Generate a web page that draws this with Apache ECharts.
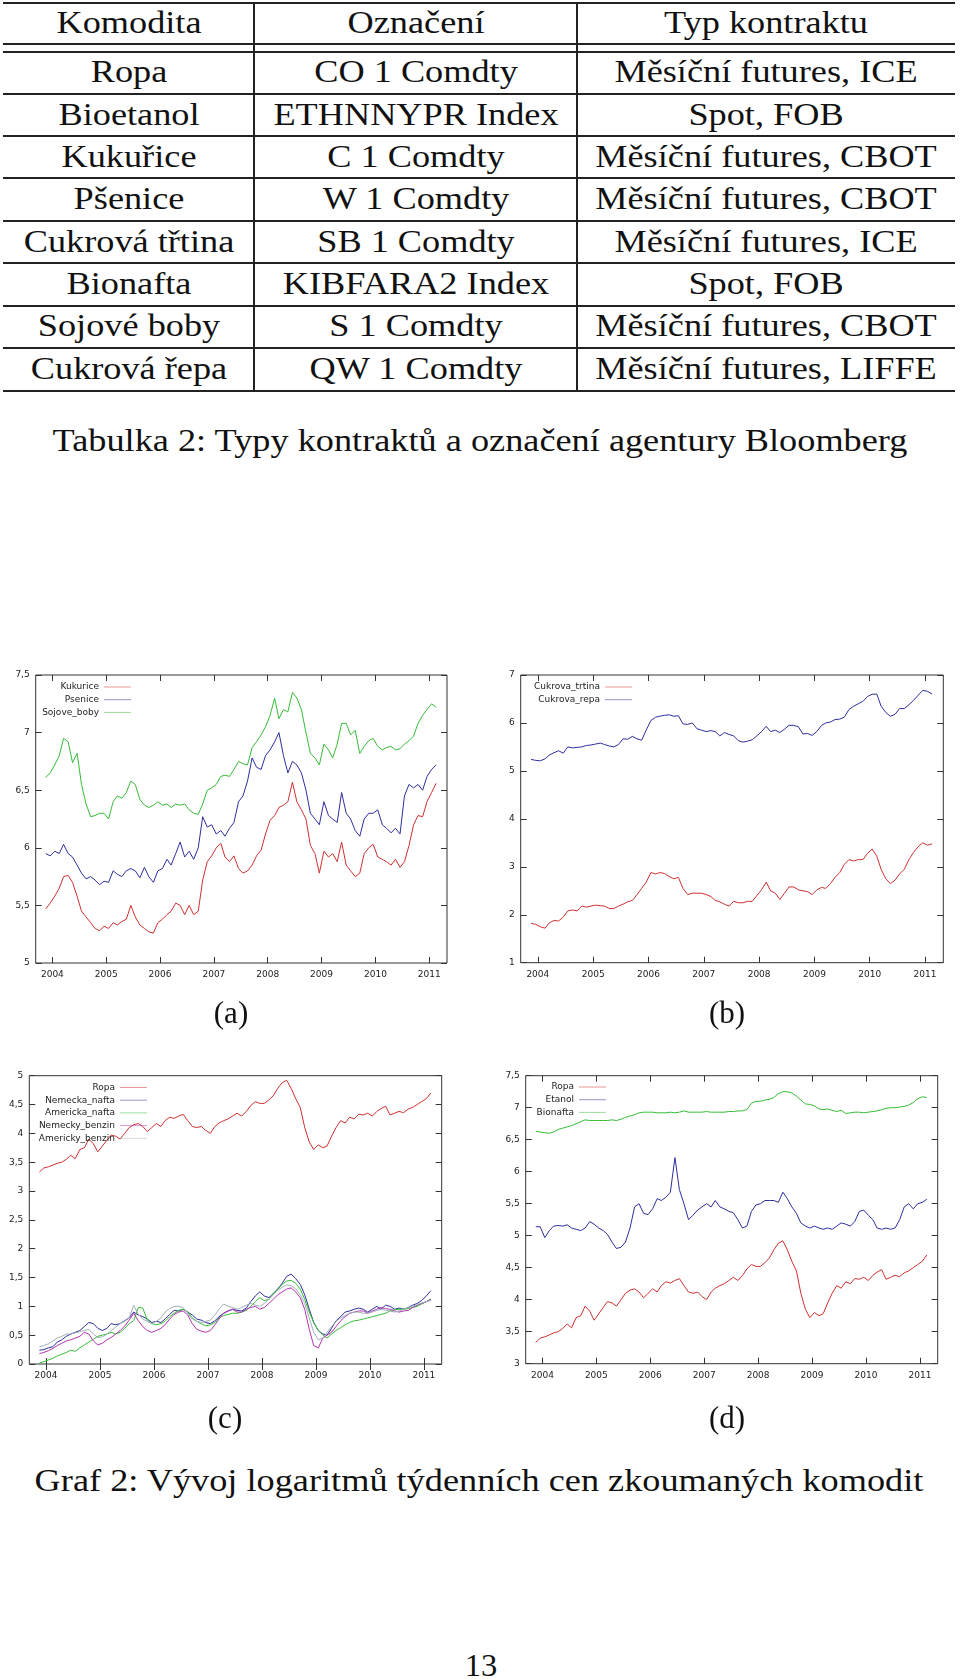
<!DOCTYPE html>
<html><head><meta charset="utf-8">
<script src="https://cdn.jsdelivr.net/npm/echarts@6/dist/echarts.min.js"></script>
<style>
html,body{margin:0;padding:0;background:#fff;}
body{width:960px;height:1679px;position:relative;overflow:hidden;font-family:"Liberation Serif","DejaVu Serif",serif;color:#111;}
.t{position:absolute;white-space:nowrap;font-size:31px;line-height:1;transform:translate(-50%,-50%) scaleX(1.17);}
.rule{position:absolute;background:#222;}
.chart{position:absolute;width:480px;height:340px;}
</style></head><body>
<div id="chartA" class="chart" style="left:0;top:660px"></div>
<div id="chartB" class="chart" style="left:480px;top:660px"></div>
<div id="chartC" class="chart" style="left:0;top:1060px"></div>
<div id="chartD" class="chart" style="left:480px;top:1060px"></div>
<script>
// ---------------- DATA ----------------
const tableHeader = ["Komodita", "Označení", "Typ kontraktu"];
const komodity = ["Ropa", "Bioetanol", "Kukuřice", "Pšenice", "Cukrová třtina", "Bionafta", "Sojové boby", "Cukrová řepa"];
const oznaceni = ["CO 1 Comdty", "ETHNNYPR Index", "C 1 Comdty", "W 1 Comdty", "SB 1 Comdty", "KIBFARA2 Index", "S 1 Comdty", "QW 1 Comdty"];
const typKontraktu = ["Měsíční futures, ICE", "Spot, FOB", "Měsíční futures, CBOT", "Měsíční futures, CBOT", "Měsíční futures, ICE", "Spot, FOB", "Měsíční futures, CBOT", "Měsíční futures, LIFFE"];
const tableCaption = "Tabulka 2: Typy kontraktů a označení agentury Bloomberg";
const figureCaption = "Graf 2: Vývoj logaritmů týdenních cen zkoumaných komodit";
const subLabels = ["(a)", "(b)", "(c)", "(d)"];
const pageNumber = "13";

const yearTicks = [2004, 2005, 2006, 2007, 2008, 2009, 2010, 2011];

const dates = [
"2003-11-17","2003-12-17",
"2004-01-17","2004-02-17","2004-03-17","2004-04-17","2004-05-17","2004-06-17","2004-07-17","2004-08-17","2004-09-17","2004-10-17","2004-11-17","2004-12-17",
"2005-01-17","2005-02-17","2005-03-17","2005-04-17","2005-05-17","2005-06-17","2005-07-17","2005-08-17","2005-09-17","2005-10-17","2005-11-17","2005-12-17",
"2006-01-17","2006-02-17","2006-03-17","2006-04-17","2006-05-17","2006-06-17","2006-07-17","2006-08-17","2006-09-17","2006-10-17","2006-11-17","2006-12-17",
"2007-01-17","2007-02-17","2007-03-17","2007-04-17","2007-05-17","2007-06-17","2007-07-17","2007-08-17","2007-09-17","2007-10-17","2007-11-17","2007-12-17",
"2008-01-17","2008-02-17","2008-03-17","2008-04-17","2008-05-17","2008-06-17","2008-07-17","2008-08-17","2008-09-17","2008-10-17","2008-11-17","2008-12-17",
"2009-01-17","2009-02-17","2009-03-17","2009-04-17","2009-05-17","2009-06-17","2009-07-17","2009-08-17","2009-09-17","2009-10-17","2009-11-17","2009-12-17",
"2010-01-17","2010-02-17","2010-03-17","2010-04-17","2010-05-17","2010-06-17","2010-07-17","2010-08-17","2010-09-17","2010-10-17","2010-11-17","2010-12-17",
"2011-01-17","2011-02-17"];

// (a)
const kukurice = [5.47,5.52,5.58,5.65,5.75,5.76,5.70,5.58,5.45,5.40, 5.35,5.30,5.28,5.32,5.30,5.35,5.33,5.36,5.38,5.50, 5.40,5.33,5.30,5.27,5.26,5.35,5.38,5.42,5.45,5.52, 5.50,5.42,5.50,5.42,5.45,5.72,5.88,5.93,6.00,6.04, 5.92,5.88,5.93,5.82,5.78,5.80,5.85,5.93,5.98,6.12, 6.24,6.28,6.35,6.37,6.40,6.57,6.40,6.33,6.25,6.02, 5.95,5.78,5.97,5.92,5.95,5.88,6.05,5.85,5.80,5.75, 5.78,5.95,6.00,6.03,5.92,5.90,5.88,5.85,5.90,5.83, 5.88,6.02,6.20,6.28,6.27,6.40,6.48,6.56];
const psenice = [5.95,5.93,5.97,5.95,6.03,5.95,5.92,5.85,5.78,5.73, 5.75,5.72,5.68,5.71,5.70,5.80,5.77,5.75,5.80,5.82, 5.80,5.74,5.83,5.75,5.70,5.80,5.82,5.90,5.85,5.95, 6.05,5.92,5.97,5.90,6.00,6.27,6.18,6.20,6.12,6.15, 6.10,6.17,6.22,6.40,6.45,6.58,6.78,6.70,6.68,6.80, 6.85,6.92,7.00,6.80,6.65,6.75,6.72,6.65,6.50,6.30, 6.25,6.20,6.40,6.28,6.25,6.22,6.48,6.30,6.25,6.15, 6.10,6.25,6.30,6.30,6.33,6.20,6.17,6.13,6.17,6.12, 6.45,6.55,6.52,6.55,6.50,6.62,6.68,6.72];
const sojoveBoby = [6.61,6.65,6.72,6.80,6.95,6.92,6.74,6.82,6.55,6.38, 6.27,6.28,6.30,6.30,6.25,6.40,6.45,6.43,6.48,6.58, 6.55,6.42,6.37,6.35,6.37,6.40,6.37,6.38,6.35,6.38, 6.37,6.38,6.33,6.30,6.29,6.38,6.50,6.52,6.55,6.62, 6.63,6.62,6.68,6.75,6.73,6.72,6.87,6.92,6.98,7.05, 7.15,7.30,7.12,7.20,7.18,7.35,7.30,7.20,7.00,6.82, 6.78,6.72,6.90,6.85,6.78,6.90,7.08,7.08,6.98,7.02, 6.82,6.88,6.93,6.95,6.88,6.85,6.87,6.88,6.85,6.86, 6.90,6.93,6.97,7.08,7.15,7.20,7.25,7.22];
// (b)
const cukrovaTrtina = [1.82,1.80,1.75,1.72,1.83,1.88,1.87,1.95,2.08,2.10, 2.08,2.18,2.16,2.18,2.20,2.19,2.18,2.13,2.13,2.18, 2.22,2.27,2.30,2.42,2.55,2.68,2.88,2.85,2.88,2.86, 2.80,2.75,2.78,2.55,2.42,2.45,2.45,2.45,2.42,2.38, 2.30,2.27,2.22,2.18,2.28,2.25,2.25,2.28,2.28,2.40, 2.52,2.68,2.50,2.45,2.32,2.45,2.58,2.58,2.52,2.50, 2.48,2.42,2.52,2.57,2.55,2.65,2.78,2.88,3.05,3.15, 3.12,3.15,3.15,3.28,3.37,3.22,2.95,2.75,2.65,2.72, 2.85,2.95,3.15,3.30,3.42,3.50,3.45,3.48];
const cukrovaRepa = [5.24,5.22,5.21,5.25,5.33,5.38,5.42,5.37,5.50,5.48, 5.49,5.50,5.53,5.54,5.56,5.58,5.55,5.52,5.50,5.55, 5.67,5.66,5.72,5.67,5.64,5.85,6.05,6.12,6.14,6.16, 6.17,6.14,6.15,5.98,5.97,6.00,5.88,5.85,5.82,5.84, 5.82,5.73,5.80,5.76,5.73,5.63,5.60,5.62,5.65,5.73, 5.82,5.93,5.82,5.85,5.80,5.87,5.95,5.95,5.92,5.77, 5.78,5.74,5.82,5.95,6.00,6.02,6.07,6.08,6.12,6.28, 6.35,6.40,6.45,6.55,6.60,6.60,6.35,6.22,6.14,6.18, 6.30,6.30,6.38,6.47,6.58,6.68,6.66,6.60];
// (c) and (d)
const ropa = [3.33,3.40,3.42,3.45,3.48,3.50,3.55,3.62,3.56,3.72, 3.75,3.90,3.82,3.68,3.78,3.88,3.97,3.95,3.90,4.00, 4.10,4.15,4.17,4.12,4.03,4.10,4.17,4.12,4.22,4.28, 4.26,4.30,4.33,4.22,4.12,4.10,4.12,4.05,4.00,4.12, 4.18,4.22,4.25,4.30,4.35,4.30,4.38,4.48,4.55,4.52, 4.52,4.58,4.65,4.78,4.88,4.92,4.78,4.60,4.45,4.10, 3.85,3.72,3.80,3.75,3.78,3.95,4.10,4.22,4.18,4.28, 4.25,4.33,4.32,4.35,4.30,4.38,4.43,4.47,4.32,4.35, 4.38,4.36,4.42,4.45,4.50,4.55,4.60,4.70];
const nemeckaNafta = [0.24,0.25,0.28,0.30,0.38,0.42,0.48,0.52,0.55,0.58, 0.65,0.72,0.70,0.62,0.58,0.62,0.70,0.68,0.70,0.75, 0.80,0.90,0.85,0.82,0.78,0.72,0.74,0.72,0.78,0.86, 0.93,0.92,0.95,0.90,0.85,0.78,0.76,0.72,0.70,0.75, 0.82,0.88,0.92,0.95,0.93,0.92,0.97,1.08,1.18,1.25, 1.18,1.15,1.22,1.30,1.40,1.52,1.56,1.48,1.38,1.20, 0.95,0.72,0.58,0.52,0.50,0.62,0.75,0.82,0.90,0.92, 0.95,0.97,0.95,0.90,0.95,1.00,0.95,1.02,1.00,0.95, 0.97,0.95,0.98,1.02,1.05,1.10,1.18,1.27];
const americkaNafta = [0.02,0.04,0.07,0.10,0.14,0.17,0.20,0.24,0.22,0.28, 0.33,0.38,0.43,0.48,0.50,0.52,0.55,0.52,0.55,0.62, 0.70,0.75,0.98,0.97,0.76,0.70,0.68,0.70,0.74,0.82, 0.88,0.93,0.95,0.90,0.80,0.74,0.70,0.66,0.68,0.72, 0.80,0.84,0.86,0.88,0.88,0.90,0.93,1.00,1.08,1.15, 1.10,1.12,1.22,1.30,1.38,1.44,1.45,1.40,1.30,1.12, 0.90,0.72,0.58,0.50,0.45,0.52,0.58,0.63,0.68,0.72, 0.75,0.76,0.78,0.80,0.82,0.84,0.86,0.88,0.92,0.94, 0.95,0.95,0.96,0.98,1.00,1.04,1.08,1.13];
const nemeckyBenzin = [0.18,0.20,0.23,0.27,0.32,0.36,0.40,0.42,0.45,0.48, 0.55,0.52,0.40,0.33,0.36,0.42,0.46,0.52,0.58,0.66, 0.76,0.88,0.75,0.65,0.58,0.55,0.58,0.62,0.68,0.78, 0.86,0.90,0.92,0.85,0.70,0.60,0.57,0.55,0.58,0.68, 0.78,0.88,0.92,0.95,0.90,0.90,0.95,0.98,1.00,0.95, 0.98,1.05,1.12,1.20,1.25,1.30,1.32,1.25,1.15,0.95, 0.60,0.32,0.28,0.45,0.50,0.55,0.65,0.75,0.82,0.88, 0.90,0.92,0.92,0.88,0.92,0.95,0.98,0.96,0.95,0.92, 0.90,0.92,0.93,0.98,1.02,1.05,1.08,1.12];
const americkyBenzin = [0.30,0.32,0.35,0.40,0.45,0.48,0.52,0.52,0.54,0.56, 0.58,0.60,0.52,0.46,0.47,0.52,0.58,0.64,0.70,0.74, 0.80,1.02,0.86,0.78,0.74,0.70,0.74,0.80,0.90,0.96, 1.00,1.00,0.98,0.88,0.78,0.74,0.72,0.74,0.76,0.85, 0.95,1.04,1.00,0.98,0.95,0.98,1.02,1.05,1.02,1.00, 1.05,1.12,1.20,1.28,1.33,1.37,1.36,1.30,1.20,1.05, 0.80,0.55,0.42,0.45,0.55,0.65,0.74,0.80,0.84,0.88, 0.90,0.90,0.88,0.88,0.90,0.93,0.95,0.93,0.92,0.90, 0.92,0.95,0.98,1.00,1.03,1.06,1.08,1.10];
const etanol = [5.14,5.14,4.97,5.08,5.15,5.16,5.15,5.17,5.12,5.10, 5.08,5.12,5.22,5.18,5.12,5.08,5.02,4.90,4.80,4.82, 4.90,5.12,5.45,5.50,5.35,5.33,5.42,5.58,5.55,5.60, 5.68,6.22,5.72,5.50,5.25,5.32,5.40,5.45,5.50,5.45, 5.55,5.45,5.42,5.38,5.36,5.25,5.12,5.15,5.38,5.48, 5.50,5.55,5.55,5.55,5.52,5.68,5.58,5.45,5.35,5.20, 5.15,5.12,5.15,5.12,5.10,5.12,5.10,5.15,5.20,5.18, 5.15,5.22,5.38,5.40,5.32,5.25,5.12,5.10,5.12,5.10, 5.12,5.25,5.45,5.50,5.42,5.50,5.52,5.57];
const bionafta = [6.63,6.62,6.61,6.60,6.62,6.66,6.68,6.70,6.72,6.75, 6.78,6.81,6.80,6.80,6.80,6.80,6.80,6.81,6.80,6.82, 6.85,6.87,6.89,6.92,6.93,6.93,6.93,6.92,6.92,6.92, 6.93,6.92,6.93,6.95,6.93,6.93,6.93,6.93,6.94,6.93, 6.93,6.93,6.93,6.94,6.94,6.95,6.95,6.97,7.07,7.10, 7.10,7.12,7.13,7.16,7.22,7.25,7.25,7.23,7.18,7.12, 7.06,7.05,7.03,6.98,6.97,6.98,6.96,6.94,6.96,6.91, 6.92,6.93,6.93,6.92,6.93,6.94,6.95,6.97,6.99,7.00, 7.00,7.01,7.02,7.04,7.08,7.14,7.17,7.16];

// ---------------- PAGE TEXT & TABLE ----------------
function addText(str, cx, cy, sx) {
  const d = document.createElement('div');
  d.className = 't';
  d.textContent = str;
  d.style.left = cx + 'px';
  d.style.top = cy + 'px';
  if (sx !== undefined) d.style.transform = 'translate(-50%,-50%) scaleX(' + sx + ')';
  document.body.appendChild(d);
}
function addRule(x, y, w, h) {
  const d = document.createElement('div');
  d.className = 'rule';
  d.style.left = x + 'px'; d.style.top = y + 'px';
  d.style.width = w + 'px'; d.style.height = h + 'px';
  document.body.appendChild(d);
}
const tblL = 3, tblR = 955, colX = [254, 577];
const colC = [(tblL + colX[0]) / 2, (colX[0] + colX[1]) / 2, (colX[1] + tblR) / 2];
const ruleYs = [3, 44, 52, 94, 136, 178, 221, 263, 306, 348, 391];
ruleYs.forEach(y => addRule(tblL, y - 0.7, tblR - tblL, 1.4));
colX.forEach(x => addRule(x - 0.6, 3, 1.2, 388));
tableHeader.forEach((h, c) => addText(h, colC[c], 21.7));
const rowsTop = 52, rowH = (391 - 52) / 8;
komodity.forEach((k, r) => {
  const cy = rowsTop + rowH * (r + 0.5) - 2;
  addText(k, colC[0], cy);
  addText(oznaceni[r], colC[1], cy);
  addText(typKontraktu[r], colC[2], cy);
});
addText(tableCaption, 480, 440);
addText(subLabels[0], 231, 1012, 1.0);
addText(subLabels[1], 727, 1012, 1.0);
addText(subLabels[2], 225, 1417, 1.0);
addText(subLabels[3], 727, 1417, 1.0);
addText(figureCaption, 478.5, 1480);
addText(pageNumber, 481, 1665, 1.05);

// ---------------- CHARTS ----------------
const C = { red: '#cf3030', blue: '#2e2ea0', green: '#36bd36', magenta: '#b334b0', gray: '#9fb0b8' };
function decYear(s) {
  const p = s.split('-').map(Number);
  const t0 = Date.UTC(p[0], 0, 1), t1 = Date.UTC(p[0] + 1, 0, 1);
  return p[0] + (Date.UTC(p[0], p[1] - 1, p[2]) - t0) / (t1 - t0);
}
const xs = dates.map(decYear);
const xMin = 2003.69, xMax = 2011.33;
const axisFont = { fontFamily: 'DejaVu Sans', fontSize: 9, color: '#222' };

function makeChart(id, cfg) {
  const chart = echarts.init(document.getElementById(id), null, { renderer: 'canvas' });
  const tick = { show: true, inside: true, length: 6, lineStyle: { color: '#333', width: 1 } };
  const option = {
    animation: false,
    backgroundColor: '#fff',
    grid: { left: cfg.grid[0], top: cfg.grid[1], width: cfg.grid[2], height: cfg.grid[3], show: true, borderColor: '#333', borderWidth: 1, backgroundColor: 'transparent' },
    legend: {
      orient: 'vertical', align: 'right', right: cfg.legend[0], top: cfg.legend[1], padding: 0,
      icon: 'rect', itemWidth: 27, itemHeight: 1, itemGap: 3.7,
      textStyle: { fontFamily: 'DejaVu Sans', fontSize: 9, color: '#222' },
      data: cfg.series.map(s => ({ name: s.name, itemStyle: { color: s.color, opacity: 0.5 } }))
    },
    xAxis: [
      { type: 'value', min: xMin, max: xMax, axisLine: { show: false }, splitLine: { show: false },
        axisTick: Object.assign({ customValues: yearTicks }, tick),
        axisLabel: Object.assign({ customValues: yearTicks, margin: 7, formatter: v => String(Math.round(v)) }, axisFont) },
      { type: 'value', position: 'top', min: xMin, max: xMax, axisLine: { show: false }, splitLine: { show: false },
        axisTick: Object.assign({ customValues: yearTicks }, tick), axisLabel: { show: false } }
    ],
    yAxis: [
      { type: 'value', min: cfg.y[0], max: cfg.y[1], interval: cfg.y[2], axisLine: { show: false }, splitLine: { show: false },
        axisTick: tick,
        axisLabel: Object.assign({ margin: 6, formatter: v => String(v).replace('.', ',') }, axisFont) },
      { type: 'value', position: 'right', min: cfg.y[0], max: cfg.y[1], interval: cfg.y[2], axisLine: { show: false }, splitLine: { show: false },
        axisTick: tick, axisLabel: { show: false } }
    ],
    series: cfg.series.map(s => ({
      name: s.name, type: 'line', symbol: 'none', xAxisIndex: 0, yAxisIndex: 0,
      color: s.color, lineStyle: { width: 1, color: s.color },
      data: xs.map((x, i) => [x, s.data[i]])
    }))
  };
  chart.setOption(option);
}

makeChart('chartA', {
  grid: [35.7, 15, 411.3, 288], y: [5, 7.5, 0.5], legend: [349, 22.5],
  series: [
    { name: 'Kukurice', data: kukurice, color: C.red },
    { name: 'Psenice', data: psenice, color: C.blue },
    { name: 'Sojove_boby', data: sojoveBoby, color: C.green }
  ]
});
makeChart('chartB', {
  grid: [40.7, 15, 422.6, 287.7], y: [1, 7, 1], legend: [328, 22.5],
  series: [
    { name: 'Cukrova_trtina', data: cukrovaTrtina, color: C.red },
    { name: 'Cukrova_repa', data: cukrovaRepa, color: C.blue }
  ]
});
makeChart('chartC', {
  grid: [29.3, 15.7, 412.4, 288.3], y: [0, 5, 0.5], legend: [333, 23],
  series: [
    { name: 'Ropa', data: ropa, color: C.red },
    { name: 'Nemecka_nafta', data: nemeckaNafta, color: C.blue },
    { name: 'Americka_nafta', data: americkaNafta, color: C.green },
    { name: 'Nemecky_benzin', data: nemeckyBenzin, color: C.magenta },
    { name: 'Americky_benzin', data: americkyBenzin, color: C.gray }
  ]
});
makeChart('chartD', {
  grid: [45.7, 15.7, 412, 288], y: [3, 7.5, 0.5], legend: [354, 22.5],
  series: [
    { name: 'Ropa', data: ropa, color: C.red },
    { name: 'Etanol', data: etanol, color: C.blue },
    { name: 'Bionafta', data: bionafta, color: C.green }
  ]
});
</script>
</body></html>
